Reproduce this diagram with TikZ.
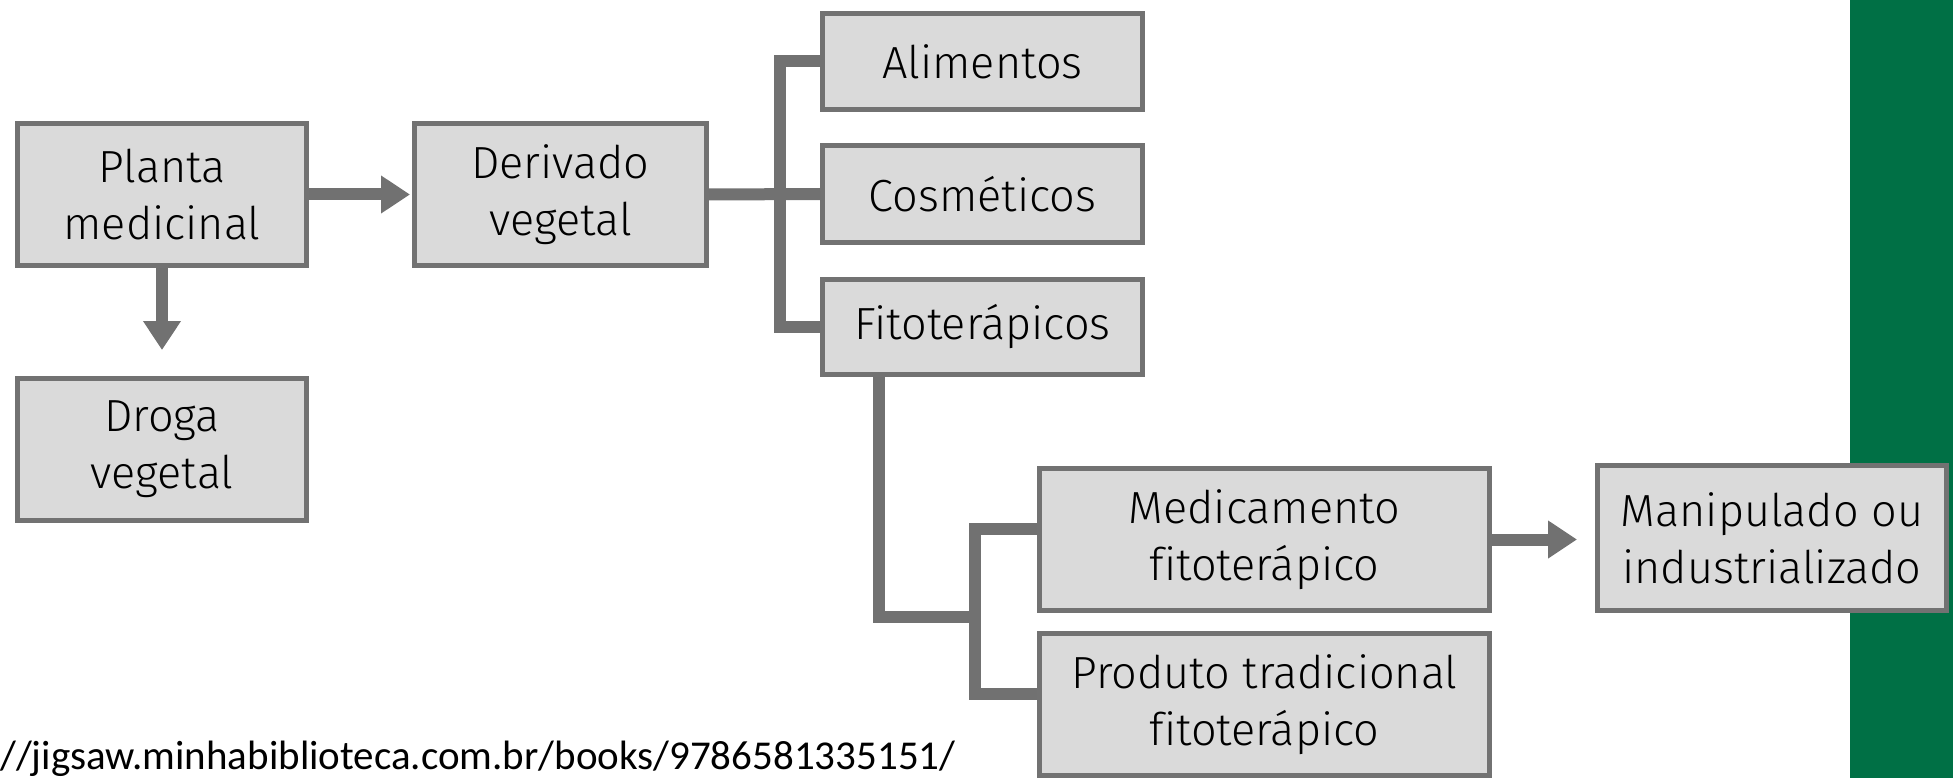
\documentclass[tikz,border=0pt]{standalone}
\usepackage{fontspec}
\setmainfont{Fira Sans}[UprightFont=* Light, Ligatures=NoCommon]
\newfontfamily\urlfont{Carlito}
\usetikzlibrary{arrows.meta,calc}
\definecolor{boxfill}{HTML}{DADADA}
\definecolor{boxline}{HTML}{727272}
\definecolor{conncol}{HTML}{717171}
\definecolor{barcol}{HTML}{007045}
\begin{document}
\begin{tikzpicture}[x=1pt,y=-1pt,
  box/.style={draw=boxline, fill=boxfill, line width=5pt, align=center,
    font=\fontsize{45}{57}\selectfont, inner sep=0pt, text=black},
  conn/.style={draw=conncol, line width=12pt, line join=miter},
  arr/.style={conn, -{Triangle[length=29pt,width=36pt]}}]
\useasboundingbox (0,0) rectangle (1953,778);
\fill[barcol] (1850,0) rectangle (1953,778);

\node[box, minimum width=289pt, minimum height=142pt] (planta) at (162,194.5) {Planta\\medicinal};
\node[box, minimum width=289pt, minimum height=142pt] (droga) at (162,449.5) {Droga\\vegetal};
\node[box, minimum width=292pt, minimum height=142pt] (deriv) at (560.5,194.5) {Derivado\\vegetal};
\node[box, minimum width=320pt, minimum height=96pt] (alim) at (982.5,61.5) {Alimentos};
\node[box, minimum width=320pt, minimum height=97pt] (cosm) at (982.5,194) {Cosméticos};
\node[box, minimum width=320pt, minimum height=95pt] (fito) at (982.5,327) {Fitoterápicos};
\node[box, minimum width=450pt, minimum height=142pt] (medic) at (1264.5,539.5) {Medicamento\\fitoterápico};
\node[box, minimum width=450pt, minimum height=142pt] (prod) at (1264.5,704.5) {Produto tradicional\\fitoterápico};
\node[box, minimum width=349pt, minimum height=145pt] (manip) at (1772,538) {Manipulado ou\\industrializado};

\coordinate (trunk) at (780,0);
\coordinate (jn) at (975,617);

\draw[arr, shorten >=26pt] (planta) -- (droga);
\draw[arr, shorten >=2pt] (planta) -- (deriv);
\draw[conn] (deriv.east) -- (cosm.west);
\draw[conn] (alim.west) -- (alim.west -| trunk) -- (fito.west -| trunk) -- (fito.west);
\draw[conn] ([xshift=-103.5pt]fito.south) |- (jn);
\draw[conn] ([yshift=11pt]medic.west) -| (jn) |- ([yshift=11pt]prod.west);
\draw[arr, shorten >=18pt] (medic.east) -- (medic.east -| manip.west);

\node[anchor=base west, inner sep=0pt, font=\urlfont\fontsize{41}{48}\selectfont] (url) at (0,769) {//jigsaw.minhabiblioteca.com.br/books/9786581335151/};
\end{tikzpicture}
\end{document}
